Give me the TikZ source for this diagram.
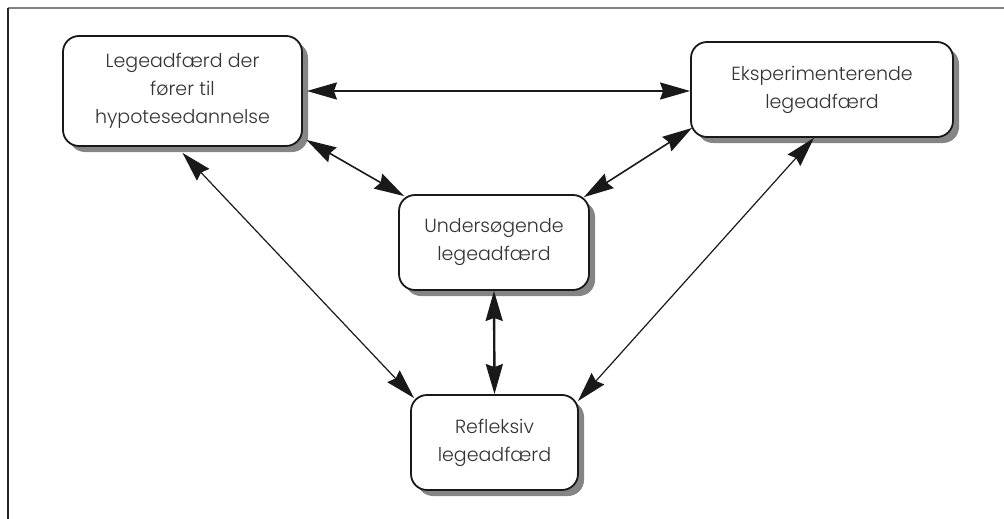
\documentclass[tikz,border=0pt]{standalone}
\usepackage{fontspec}
\setmainfont{Poppins}[UprightFont=* Light]
\usetikzlibrary{arrows.meta,shadows,calc}
\tikzset{bighead/.tip={Stealth[length=30pt,width=17pt,inset=3pt]}}
\begin{document}
\begin{tikzpicture}[x=1pt,y=-1pt,
  box/.style={draw=black!90,line width=1.8pt,rounded corners=16pt,fill=white,
    align=center,font=\fontsize{19}{28}\selectfont,text=black!80,inner sep=0pt,
    drop shadow={shadow xshift=6pt,shadow yshift=-6pt,opacity=1,fill=black!48}},
  bi/.style={bighead-bighead,draw=black!90},
  thickln/.style={line width=2.4pt},
  midln/.style={line width=1.6pt},
  thinln/.style={line width=1.2pt}]
\useasboundingbox (0,0) rectangle (1004,519);
\draw[black!50,line width=1.5pt] (8,8) coordinate (tl) -- (1004,8) coordinate (tr);
\draw[black!85,line width=1.5pt] (tl) -- (8,519) coordinate (bl);
\node[box,minimum width=239pt,minimum height=110pt] (A) at (182.5,91) {Legeadfærd der\\ fører til\\ hypotesedannelse};
\node[box,minimum width=262pt,minimum height=95pt] (B) at (822,89.5) {Eksperimenterende\\ legeadfærd};
\node[box,minimum width=190pt,minimum height=95pt] (C) at (494,242.5) {Undersøgende\\ legeadfærd};
\node[box,minimum width=167pt,minimum height=95pt] (D) at (494.5,442.5) {Refleksiv\\ legeadfærd};
\draw[bi,thickln,shorten <=4pt] (A.east) -- (A.east -| B.west);
\draw[bi,midln,shorten <=4pt] ($(A.south east)+(0,-9)$) -- ($(C.north west)+(6,2)$);
\draw[bi,midln] ($(B.south west)+(2,-10)$) -- ($(C.north east)+(-6,3)$);
\draw[bi,thickln] (C.south) -- (D.north);
\draw[bi,thinln] ($(A.south)+(0,6)$) -- ($(D.north west)+(4,4)$);
\draw[bi,thinln] ($(B.south)+(-8,0)$) -- ($(D.north east)+(-1,7)$);
\end{tikzpicture}
\end{document}
